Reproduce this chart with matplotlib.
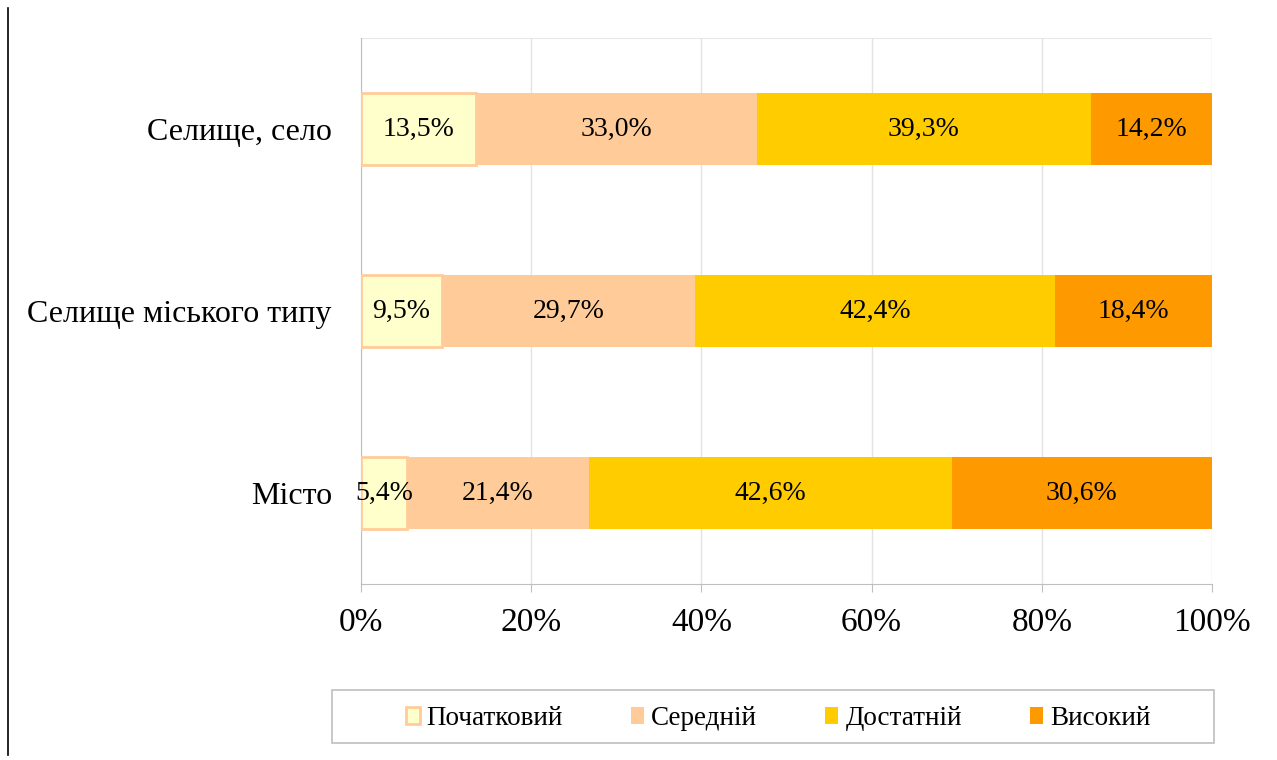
import numpy as np
import matplotlib
matplotlib.use("Agg")
import matplotlib.pyplot as plt
from matplotlib.patches import Rectangle
from matplotlib.ticker import FuncFormatter

plt.rcParams['font.family'] = ['Liberation Serif', 'DejaVu Serif']

# data (bottom to top)
categories = ['Місто', 'Селище міського типу', 'Селище, село']
levels = ['Початковий', 'Середній', 'Достатній', 'Високий']
pochatkovyi = [5.4, 9.5, 13.5]
serednii = [21.4, 29.7, 33.0]
dostatnii = [42.6, 42.4, 39.3]
vysokyi = [30.6, 18.4, 14.2]

series = [pochatkovyi, serednii, dostatnii, vysokyi]
colors = ['#FFFFCC', '#FFCC99', '#FFCC00', '#FF9900']
edges = ['#FFCC99', '#FFCC99', '#FFCC00', '#FF9900']

fig = plt.figure(figsize=(12.77, 7.6), dpi=100)
ax = fig.add_axes([0.2827, 0.2316, 0.6664, 0.7184])

y = np.arange(len(categories))
left = np.zeros(len(categories))
handles = []
for vals, name, c, ec in zip(series, levels, colors, edges):
    vals = np.array(vals)
    lw = 2 if name == 'Початковий' else 0
    b = ax.barh(y, vals, left=left, height=0.4, color=c, edgecolor=ec,
                linewidth=lw, label=name, zorder=3)
    handles.append(b)
    for yi, l, v in zip(y, left, vals):
        ax.text(l + v / 2, yi, f'{v:.1f}%'.replace('.', ','), ha='center',
                va='center', fontsize=20, zorder=4)
    left = left + vals

ax.set_xlim(0, 100)
ax.set_ylim(-0.5, 2.5)
ax.set_yticks(y)
ax.set_yticklabels(categories, fontsize=23)
ax.set_xticks(np.arange(0, 101, 20))
ax.xaxis.set_major_formatter(FuncFormatter(lambda v, p: f'{v:.0f}%'))
ax.tick_params(axis='x', labelsize=24, length=6, color='#BFBFBF', pad=11)
ax.tick_params(axis='y', length=0, pad=21)
ax.grid(axis='x', color='#E3E3E3', linewidth=1, zorder=0)
for s in ['top', 'right']:
    ax.spines[s].set_visible(False)
ax.spines['left'].set_color('#BFBFBF')
ax.spines['bottom'].set_color('#BFBFBF')
ax.axhline(2.5, color='#E8E8E8', linewidth=1.5, zorder=0)

# legend box drawn wider than its entries
fig.add_artist(Rectangle((0.26, 0.0224), 0.6907, 0.0697, transform=fig.transFigure,
                         facecolor='white', edgecolor='#BFBFBF', linewidth=1.2))
leg = fig.legend(handles=handles, labels=levels, loc='center',
                 bbox_to_anchor=(0.6095, 0.0545), ncol=4, fontsize=19.5,
                 frameon=False, handlelength=0.5, handleheight=0.6,
                 handletextpad=0.26, columnspacing=2.5, borderpad=0.3)

# thin line along left edge of the picture
fig.add_artist(plt.Line2D([0.0065, 0.0065], [0.006, 0.99], color='black',
                          linewidth=1.2, transform=fig.transFigure))

fig.savefig('out.png', dpi=100)
